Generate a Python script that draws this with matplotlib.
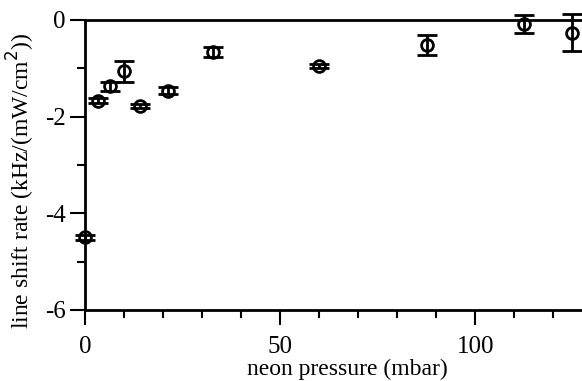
import matplotlib
matplotlib.use("Agg")
import matplotlib.pyplot as plt
from matplotlib.ticker import MultipleLocator, FuncFormatter

pressure = [0.0, 3.3, 6.4, 10.0, 14.1, 21.2, 32.9, 60.0, 87.6, 112.6, 124.8]
shift = [-4.50, -1.67, -1.37, -1.06, -1.78, -1.46, -0.66, -0.95, -0.52, -0.08, -0.26]
err = [0.05, 0.05, 0.09, 0.22, 0.04, 0.08, 0.10, 0.04, 0.20, 0.18, 0.38]

plt.rcParams['font.family'] = ['Liberation Serif', 'DejaVu Serif']

fig = plt.figure(figsize=(5.82, 3.81), dpi=100)
ax = fig.add_axes([85/582, 1-310/381, 1-85/582, 290/381])

ax.errorbar(pressure, shift, yerr=err, fmt='o', mfc='none', mec='black',
            ecolor='black', color='black', ms=8.5, mew=2, elinewidth=2,
            capsize=7.5, capthick=2.5, clip_on=False, zorder=3)

ax.set_xlim(0, 127.4)
ax.set_ylim(-6, 0)
ax.xaxis.set_major_locator(MultipleLocator(50))
ax.xaxis.set_minor_locator(MultipleLocator(10))
ax.yaxis.set_major_locator(MultipleLocator(2))
ax.yaxis.set_minor_locator(MultipleLocator(1))
ax.yaxis.set_major_formatter(FuncFormatter(lambda v, p: f"{v:g}".replace('\u2212', '-')))

for s in ['left', 'bottom', 'top']:
    ax.spines[s].set_linewidth(2)
ax.spines['right'].set_visible(False)
ax.tick_params(which='major', direction='out', length=11, width=1.5, labelsize=18)
ax.tick_params(which='minor', direction='out', length=5.5, width=1.5)
ax.tick_params(axis='x', pad=8)
ax.tick_params(axis='y', pad=3)

ax.set_xlabel('neon pressure (mbar)', fontsize=17)
ax.set_ylabel('line shift rate (kHz/(mW/cm$^2$))', fontsize=17)
ax.xaxis.set_label_coords(0.527, -0.17)
ax.yaxis.set_label_coords(-0.096, 0.445)

fig.savefig('out.png', dpi=100)
